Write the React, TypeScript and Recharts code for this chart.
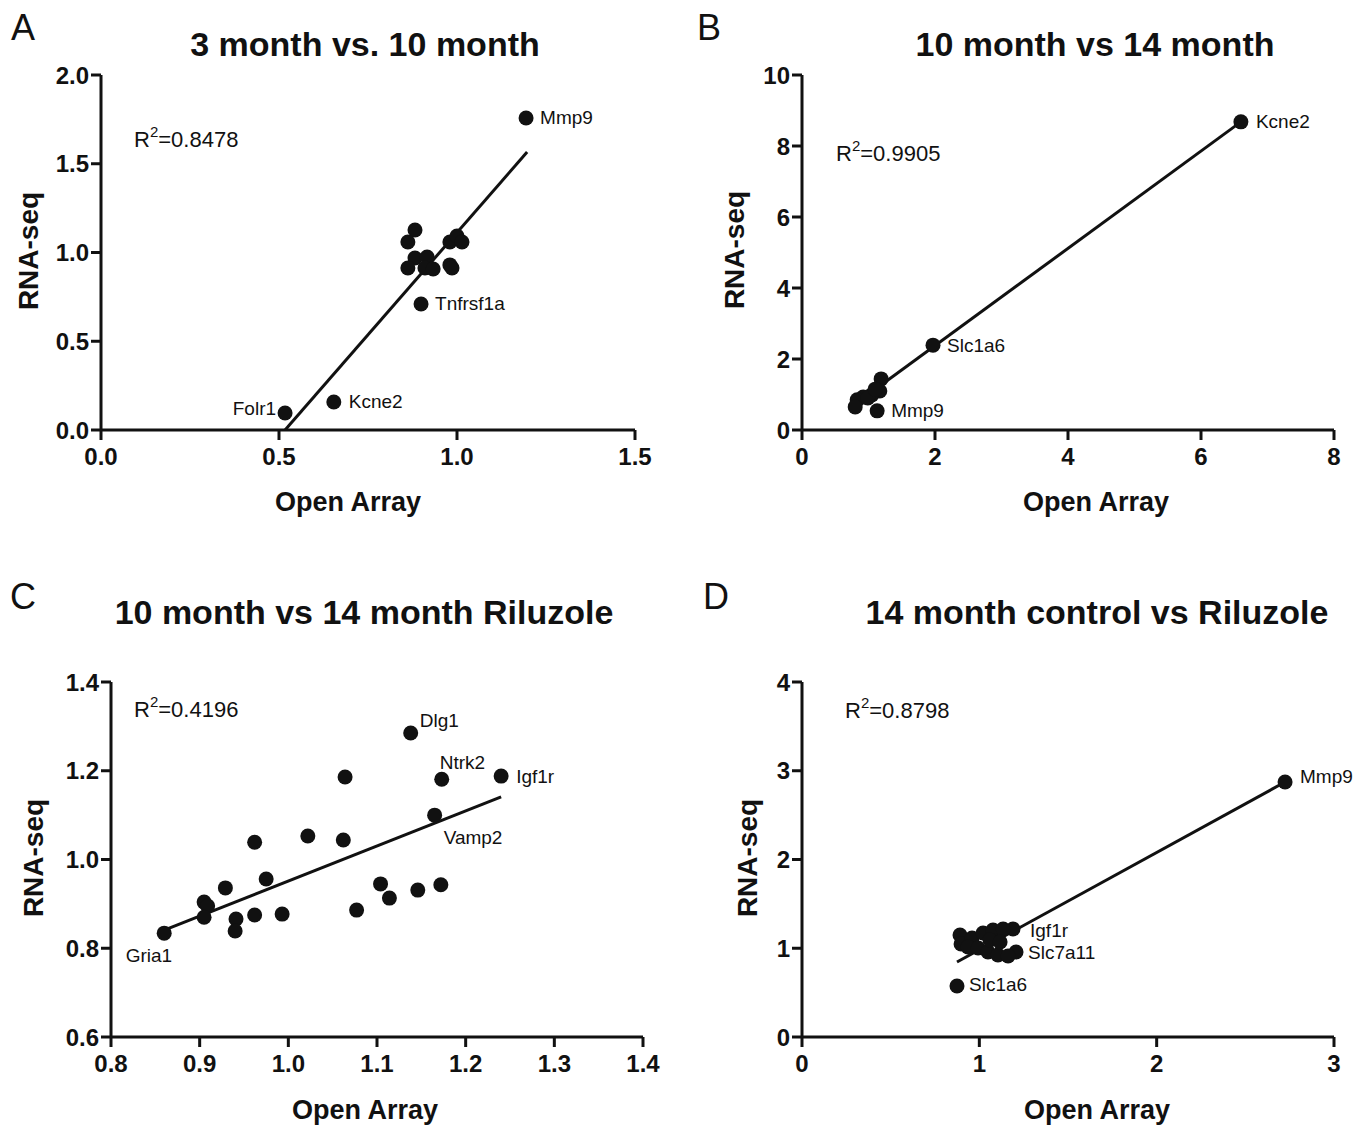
import React from 'react';
import { ScatterChart, Scatter, XAxis, YAxis, ReferenceLine } from 'recharts';

// ---------- data ----------
const genesA = ['Mmp9', 'Tnfrsf1a', 'Kcne2', 'Folr1', '', '', '', '', '', '', '', '', '', '', '', ''];
const openArrayA = [1.194, 0.899, 0.654, 0.517, 0.882, 0.862, 0.882, 0.862, 0.916, 0.91, 0.933, 0.98, 0.986, 0.98, 1.0, 1.014];
const rnaSeqA = [1.758, 0.71, 0.158, 0.096, 1.127, 1.059, 0.969, 0.913, 0.975, 0.913, 0.907, 0.93, 0.913, 1.059, 1.093, 1.059];
const fitA = [{ x: 0.517, y: 0 }, { x: 1.197, y: 1.566 }];

const genesB = ['Kcne2', 'Slc1a6', 'Mmp9', '', '', '', '', '', '', '', ''];
const openArrayB = [6.6, 1.97, 1.13, 1.19, 1.17, 1.05, 0.92, 0.83, 0.8, 0.99, 1.1];
const rnaSeqB = [8.68, 2.39, 0.54, 1.44, 1.1, 0.99, 0.93, 0.85, 0.65, 0.9, 1.15];
const fitB = [{ x: 0.8, y: 0.73 }, { x: 6.6, y: 8.68 }];

const genesC = ['Gria1', 'Dlg1', 'Ntrk2', 'Igf1r', 'Vamp2', '', '', '', '', '', '', '', '', '', '', '', '', '', '', '', '', '', ''];
const openArrayC = [0.86, 1.138, 1.173, 1.24, 1.165, 1.064, 1.062, 1.022, 0.962, 0.975, 0.929, 0.905, 0.909, 0.905, 0.941, 0.94, 0.962, 0.993, 1.077, 1.104, 1.114, 1.146, 1.172];
const rnaSeqC = [0.834, 1.285, 1.181, 1.188, 1.1, 1.186, 1.044, 1.053, 1.039, 0.956, 0.936, 0.904, 0.895, 0.87, 0.866, 0.839, 0.875, 0.877, 0.886, 0.945, 0.913, 0.931, 0.943];
const fitC = [{ x: 0.86, y: 0.841 }, { x: 1.24, y: 1.141 }];

const genesD = ['Mmp9', 'Igf1r', 'Slc7a11', 'Slc1a6', '', '', '', '', '', '', '', '', '', '', '', ''];
const openArrayD = [2.724, 1.19, 1.207, 0.874, 0.891, 0.897, 0.959, 1.021, 1.077, 1.134, 0.936, 0.993, 1.049, 1.105, 1.162, 1.06, 1.117];
const rnaSeqD = [2.873, 1.217, 0.958, 0.575, 1.149, 1.048, 1.115, 1.172, 1.206, 1.217, 1.014, 1.003, 0.958, 0.924, 0.913, 1.093, 1.07];
const fitD = [{ x: 0.874, y: 0.845 }, { x: 2.724, y: 2.873 }];

const ticksA_x = [0, 0.5, 1, 1.5];
const ticksA_y = [0, 0.5, 1, 1.5, 2];
const ticksB_x = [0, 2, 4, 6, 8];
const ticksB_y = [0, 2, 4, 6, 8, 10];
const ticksC_x = [0.8, 0.9, 1.0, 1.1, 1.2, 1.3, 1.4];
const ticksC_y = [0.6, 0.8, 1.0, 1.2, 1.4];
const ticksD_x = [0, 1, 2, 3];
const ticksD_y = [0, 1, 2, 3, 4];

// ---------- label placement (style) ----------
type Place = { dx: number; dy: number; anchor?: 'start' | 'end' | 'middle' };
const placeA: Record<string, Place> = {
  Mmp9: { dx: 14, dy: 0 },
  Tnfrsf1a: { dx: 14, dy: 0 },
  Kcne2: { dx: 15, dy: 0 },
  Folr1: { dx: -9, dy: -4, anchor: 'end' },
};
const placeB: Record<string, Place> = {
  Kcne2: { dx: 15, dy: 0 },
  Slc1a6: { dx: 14, dy: 0 },
  Mmp9: { dx: 14, dy: 0 },
};
const placeC: Record<string, Place> = {
  Gria1: { dx: 8, dy: 22, anchor: 'end' },
  Dlg1: { dx: 9, dy: -13 },
  Ntrk2: { dx: -2, dy: -17 },
  Igf1r: { dx: 15, dy: 0 },
  Vamp2: { dx: 9, dy: 22 },
};
const placeD: Record<string, Place> = {
  Mmp9: { dx: 15, dy: -6 },
  Igf1r: { dx: 17, dy: 2 },
  Slc7a11: { dx: 12, dy: 1 },
  Slc1a6: { dx: 12, dy: -1 },
};

const FONT = '"Liberation Sans", Arial, Helvetica, sans-serif';
const INK = '#111';

const build = (xs: number[], ys: number[], genes: string[]) =>
  xs.map((x, i) => ({ x, y: ys[i], gene: genes[i] || '' }));

const makeShape = (place: Record<string, Place>) => (props: any) => {
  const { cx, cy, payload } = props;
  const p = payload && payload.gene ? place[payload.gene] : null;
  return (
    <g>
      <circle cx={cx} cy={cy} r={7.5} fill={INK} />
      {p && (
        <text
          x={cx + p.dx}
          y={cy + p.dy}
          textAnchor={p.anchor || 'start'}
          dominantBaseline="central"
          fontSize={19}
          fontFamily={FONT}
          fill={INK}
        >
          {payload.gene}
        </text>
      )}
    </g>
  );
};

type PanelProps = {
  left: number;
  top: number;
  width: number;
  height: number;
  margin: { top: number; right: number; bottom: number; left: number };
  data: { x: number; y: number; gene: string }[];
  fit: { x: number; y: number }[];
  xTicks: number[];
  yTicks: number[];
  xDigits: number;
  yDigits: number;
  place: Record<string, Place>;
};

const axisLine = { stroke: INK, strokeWidth: 3 };
const tickStyle = { fill: INK, fontSize: 24, fontWeight: 'bold', fontFamily: FONT };

const Panel = (p: PanelProps) => (
  <div style={{ position: 'absolute', left: p.left, top: p.top }}>
    <ScatterChart width={p.width} height={p.height} margin={p.margin} style={{ overflow: 'visible' }}>
      <XAxis
        type="number"
        dataKey="x"
        domain={[p.xTicks[0], p.xTicks[p.xTicks.length - 1]]}
        ticks={p.xTicks}
        interval={0}
        height={60}
        tickSize={10}
        tickMargin={8}
        axisLine={axisLine}
        tickLine={axisLine}
        tick={tickStyle}
        tickFormatter={(v: number) => v.toFixed(p.xDigits)}
      />
      <YAxis
        type="number"
        dataKey="y"
        domain={[p.yTicks[0], p.yTicks[p.yTicks.length - 1]]}
        ticks={p.yTicks}
        interval={0}
        width={60}
        tickSize={10}
        tickMargin={2}
        axisLine={axisLine}
        tickLine={axisLine}
        tick={tickStyle}
        tickFormatter={(v: number) => v.toFixed(p.yDigits)}
      />
      <ReferenceLine
        segment={p.fit}
        stroke={INK}
        strokeWidth={3}
        ifOverflow="visible"
      />
      <Scatter data={p.data} shape={makeShape(p.place)} isAnimationActive={false} />
    </ScatterChart>
  </div>
);

const Txt = ({ x, y, size, bold, children, anchor = 'left', rotate = false }: any) => {
  const tx = anchor === 'center' ? '-50%' : '0';
  return (
    <div
      style={{
        position: 'absolute',
        left: x,
        top: y,
        transform: `translate(${tx}, -50%)${rotate ? ' rotate(-90deg)' : ''}`,
        fontFamily: FONT,
        fontSize: size,
        fontWeight: bold ? 'bold' : 'normal',
        color: INK,
        whiteSpace: 'nowrap',
        lineHeight: 1,
      }}
    >
      {children}
    </div>
  );
};

const R2 = ({ x, y, value }: { x: number; y: number; value: string }) => (
  <Txt x={x} y={y} size={22}>
    R<sup style={{ fontSize: 15, verticalAlign: 'top', position: 'relative', top: -5 }}>2</sup>={value}
  </Txt>
);

export default function App() {
  return (
    <div style={{ position: 'absolute', left: 0, top: 0, width: 1368, height: 1125, background: '#fff', overflow: 'hidden' }}>
      <Panel
        left={0} top={0} width={684} height={562}
        margin={{ top: 75, right: 49, bottom: 72, left: 41 }}
        data={build(openArrayA, rnaSeqA, genesA)} fit={fitA}
        xTicks={ticksA_x} yTicks={ticksA_y} xDigits={1} yDigits={1} place={placeA}
      />
      <Panel
        left={684} top={0} width={684} height={562}
        margin={{ top: 75, right: 34, bottom: 72, left: 58 }}
        data={build(openArrayB, rnaSeqB, genesB)} fit={fitB}
        xTicks={ticksB_x} yTicks={ticksB_y} xDigits={0} yDigits={0} place={placeB}
      />
      <Panel
        left={0} top={562} width={684} height={563}
        margin={{ top: 120, right: 41, bottom: 28, left: 51 }}
        data={build(openArrayC, rnaSeqC, genesC)} fit={fitC}
        xTicks={ticksC_x} yTicks={ticksC_y} xDigits={1} yDigits={1} place={placeC}
      />
      <Panel
        left={684} top={562} width={684} height={563}
        margin={{ top: 120, right: 34, bottom: 28, left: 58 }}
        data={build(openArrayD, rnaSeqD, genesD)} fit={fitD}
        xTicks={ticksD_x} yTicks={ticksD_y} xDigits={0} yDigits={0} place={placeD}
      />

      {/* panel letters */}
      <Txt x={11} y={28} size={36}>A</Txt>
      <Txt x={697} y={28} size={36}>B</Txt>
      <Txt x={10} y={597} size={36}>C</Txt>
      <Txt x={703} y={597} size={36}>D</Txt>

      {/* titles */}
      <Txt x={365} y={44} size={34} bold anchor="center">3 month vs. 10 month</Txt>
      <Txt x={1095} y={44} size={34} bold anchor="center">10 month vs 14 month</Txt>
      <Txt x={364} y={612} size={34} bold anchor="center">10 month vs 14 month Riluzole</Txt>
      <Txt x={1097} y={612} size={34} bold anchor="center">14 month control vs Riluzole</Txt>

      {/* axis titles */}
      <Txt x={348} y={502} size={27} bold anchor="center">Open Array</Txt>
      <Txt x={1096} y={502} size={27} bold anchor="center">Open Array</Txt>
      <Txt x={365} y={1110} size={27} bold anchor="center">Open Array</Txt>
      <Txt x={1097} y={1110} size={27} bold anchor="center">Open Array</Txt>
      <Txt x={29} y={251} size={28} bold anchor="center" rotate>RNA-seq</Txt>
      <Txt x={735} y={250} size={28} bold anchor="center" rotate>RNA-seq</Txt>
      <Txt x={34} y={858} size={28} bold anchor="center" rotate>RNA-seq</Txt>
      <Txt x={748} y={858} size={28} bold anchor="center" rotate>RNA-seq</Txt>

      {/* R squared */}
      <R2 x={134} y={140} value="0.8478" />
      <R2 x={836} y={154} value="0.9905" />
      <R2 x={134} y={710} value="0.4196" />
      <R2 x={845} y={711} value="0.8798" />
    </div>
  );
}
